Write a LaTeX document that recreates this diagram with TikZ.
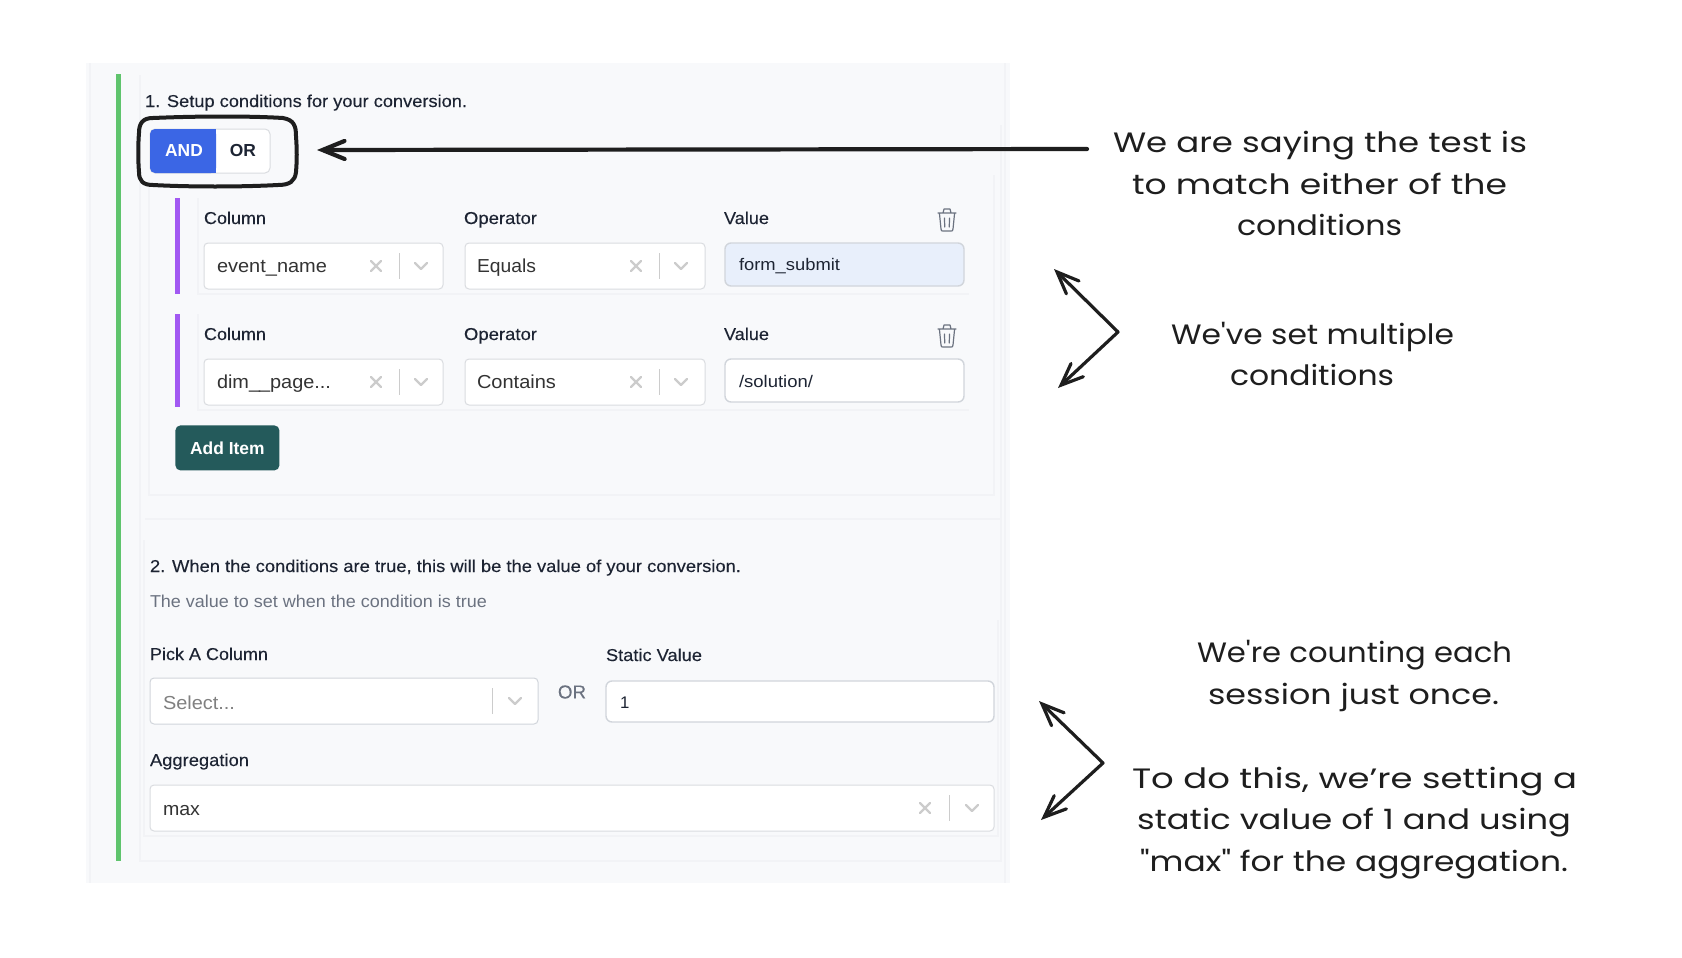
\documentclass[tikz,border=0pt]{standalone}
\usepackage{graphicx}
\usepackage{fontspec}
\setmainfont{Liberation Sans}
\newfontfamily\uimed[FakeBold=0.2]{Liberation Sans}
\newfontfamily\handf{Poppins}
\usetikzlibrary{arrows.meta}
\definecolor{panelbg}{HTML}{F8F9FB}
\definecolor{faint}{HTML}{F2F3F6}
\definecolor{greenbar}{HTML}{5FC46D}
\definecolor{purplebar}{HTML}{A259F2}
\definecolor{andblue}{HTML}{3B66E5}
\definecolor{teal}{HTML}{245A5B}
\definecolor{inkdark}{HTML}{1D2433}
\definecolor{selink}{HTML}{333333}
\definecolor{grayink}{HTML}{6B7280}
\definecolor{boxline}{HTML}{DADCE0}
\definecolor{iconline}{HTML}{CCCCCC}
\definecolor{inputline}{HTML}{D1D5DB}
\definecolor{hiblue}{HTML}{E8EFFB}
\definecolor{handink}{HTML}{1E1E1E}
\newcommand{\fitw}[2]{\resizebox{\dimexpr #1pt/2\relax}{\height}{#2}}
\tikzset{
  x=0.5pt,y=-0.5pt,
  txt/.style={inner sep=0pt,outer sep=0pt,anchor=base west},
  headtxt/.style={txt,text=inkdark,font=\uimed\fontsize{8.6pt}{10pt}\selectfont},
  labeltxt/.style={txt,text=inkdark,font=\uimed\fontsize{8.6pt}{10pt}\selectfont},
  seltxt/.style={txt,text=selink,font=\fontsize{9.4pt}{11pt}\selectfont},
  inptxt/.style={txt,text=inkdark,font=\fontsize{8.4pt}{10pt}\selectfont},
  handtxt/.style={txt,text=handink,font=\handf\fontsize{14pt}{16pt}\selectfont},
  selbox/.style={draw=boxline,fill=white,line width=0.5pt,rounded corners=2pt},
  inpbox/.style={draw=inputline,fill=white,line width=0.7pt,rounded corners=3pt},
  faintline/.style={draw=faint,line width=0.6pt},
  wiggle/.style={draw=handink,line width=2pt,line cap=round,line join=round},
  barbed/.style={draw=handink,line width=1.6pt,line cap=round,line join=round,
     {Straight Barb[length=11pt,width=9pt,line cap=round]}-{Straight Barb[length=11pt,width=9pt,line cap=round]}},
  pointer/.style={draw=handink,line width=2.1pt,line cap=round,
     {Straight Barb[length=11pt,width=9pt,line cap=round]}-},
  clearx/.pic={\draw[iconline,line width=1.2pt,line cap=round] (-5,-5) -- (5,5) (-5,5) -- (5,-5);},
  downchev/.pic={\draw[iconline,line width=1.2pt,line cap=round,line join=round] (-6,-3) -- (0,3) -- (6,-3);},
  sepbar/.pic={\draw[iconline,line width=0.5pt] (0,-13) -- (0,13);},
  trashicon/.pic={\draw[grayink,line width=0.6pt,line join=round,line cap=round]
     (-9,-7) -- (9,-7) (-4,-7) -- (-3,-11) -- (3,-11) -- (4,-7)
     (-7.5,-6) -- (-6,9) .. controls (-6,11) and (-5,11) .. (-4,11) -- (4,11) .. controls (5,11) and (6,11) .. (6,9) -- (7.5,-6)
     (-2.6,-2) -- (-2.2,7) (2.6,-2) -- (2.2,7);}
}
\begin{document}
\begin{tikzpicture}
\useasboundingbox (0,0) rectangle (1682,958);
\fill[white] (0,0) rectangle (1682,958);
% panels
\fill[panelbg] (86,63) rectangle (1010,883);
\draw[faintline] (90,63) -- (90,883);
\draw[faintline] (1005,63) -- (1005,883);
\draw[faintline] (140,75) -- (140,861) -- (1001,861) -- (1001,125);
\draw[faintline] (149,180) -- (149,495) -- (994,495) -- (994,175);
\draw[faintline] (145,519) -- (1001,519);
\draw[faintline] (144,540) -- (144,836) -- (998,836) -- (998,620);
\fill[greenbar] (116,74) rectangle (121,861);
% section 1
\node[headtxt] (head1) at (145,107) {\fitw{322}{1. Setup conditions for your conversion.}};
% toggle
\draw[draw=boxline,fill=white,line width=0.5pt,rounded corners=2.5pt] (150,129) rectangle (270,173);
\fill[andblue,rounded corners=2.5pt] (150,129) rectangle (216,173);
\fill[andblue] (205,129) rectangle (216,173);
\node[anchor=center,inner sep=0pt,text=white,font=\bfseries\fontsize{8.7pt}{11pt}\selectfont] (andlbl) at (184,151) {AND};
\node[anchor=center,inner sep=0pt,text=inkdark,font=\bfseries\fontsize{8.7pt}{11pt}\selectfont] (orlbl) at (243,151) {OR};
% row cards
\foreach \dy/\nm in {0/a,116/b}{
  \begin{scope}[yshift=-\dy*0.5pt]
  \ifnum\dy=0 \fill[purplebar] (175,198) rectangle (180,294);\else \fill[purplebar] (175,198) rectangle (180,291);\fi
  \draw[faintline] (198,198) -- (198,294) -- (969,294);
  \node[labeltxt] (col\nm) at (204,224) {\fitw{62}{Column}};
  \node[labeltxt] (ope\nm) at (464,224) {\fitw{73}{Operator}};
  \node[labeltxt] (val\nm) at (724,224) {\fitw{45}{Value}};
  \draw[selbox] (204,243) rectangle (443,289);
  \draw[selbox] (465,243) rectangle (705,289);
  \pic at (376,266) {clearx};
  \pic at (399,266) {sepbar};
  \pic at (421,266) {downchev};
  \pic at (636,266) {clearx};
  \pic at (659,266) {sepbar};
  \pic at (681,266) {downchev};
  \pic at (947,220) {trashicon};
  \end{scope}
}
\draw[inpbox,fill=hiblue] (725,243) rectangle (964,286);
\draw[inpbox] (725,359) rectangle (964,402);
\node[seltxt] (sel1) at (217,272) {\fitw{110}{event\_name}};
\node[seltxt] (sel2) at (477,272) {\fitw{59}{Equals}};
\node[inptxt] (inp1) at (739,270) {\fitw{101}{form\_submit}};
\node[seltxt] (sel3) at (217,388) {\fitw{114}{dim\_\hspace{-0.5pt}\_page...}};
\node[seltxt] (sel4) at (477,388) {\fitw{79}{Contains}};
\node[inptxt] (inp2) at (739,387) {\fitw{74}{/solution/}};
% add item
\node[fill=teal,rounded corners=2.5pt,anchor=north west,minimum width=52pt,minimum height=22.5pt,inner sep=0pt,
   text=white,font=\bfseries\fontsize{8.7pt}{10pt}\selectfont] (additem) at (175,425) {Add Item};
% section 2
\node[headtxt] (head2) at (150,572) {\fitw{591}{2. When the conditions are true, this will be the value of your conversion.}};
\node[txt,text=grayink,font=\fontsize{8.6pt}{10pt}\selectfont] (sub2) at (150,607) {\fitw{337}{The value to set when the condition is true}};
\node[labeltxt] (pick) at (150,660) {\fitw{118}{Pick A Column}};
\node[labeltxt] (stat) at (606,661) {\fitw{96}{Static Value}};
\draw[selbox,draw=inputline] (150,678) rectangle (538,724);
\node[seltxt,text=black!50] (selph) at (163,709) {\fitw{72}{Select...}};
\pic at (492,701) {sepbar};
\pic at (515,701) {downchev};
\node[anchor=center,inner sep=0pt,text=grayink,font=\uimed\fontsize{9.4pt}{11pt}\selectfont] (orgap) at (572,692) {OR};
\draw[inpbox] (606,681) rectangle (994,722);
\node[inptxt] (one) at (620,708) {1};
\node[labeltxt] (agg) at (150,766) {\fitw{99}{Aggregation}};
\draw[selbox] (150,785) rectangle (994,831);
\node[seltxt] (maxv) at (163,815) {\fitw{37}{max}};
\pic at (925,808) {clearx};
\pic at (949,808) {sepbar};
\pic at (972,808) {downchev};
% hand annotations
\draw[wiggle] (153,118) .. controls (200,116) and (250,116) .. (283,118) .. controls (294,120) and (296,126) .. (296,136)
  .. controls (297,150) and (297,160) .. (296,172) .. controls (295,181) and (290,185) .. (278,185)
  .. controls (240,187) and (190,187) .. (153,185) .. controls (143,185) and (139,181) .. (139,172)
  .. controls (138,160) and (138,145) .. (139,133) .. controls (139,123) and (143,118) .. (153,118) -- cycle;
\coordinate (ptrtip) at (317,150);
\coordinate (ptrend) at (1087,149);
\coordinate (c1a) at (1054,269);
\coordinate (c1m) at (1118,332);
\coordinate (c1b) at (1058,388);
\coordinate (c2a) at (1039,701);
\coordinate (c2m) at (1103,763);
\coordinate (c2b) at (1041,820);
\draw[pointer] (ptrtip) -- (ptrend);
\draw[barbed] (c1a) -- (c1m) -- (c1b);
\draw[barbed] (c2a) -- (c2m) -- (c2b);
\node[handtxt] (h1) at (1113,152) {\fitw{414}{We are saying the test is}};
\node[handtxt] (h2) at (1132,194) {\fitw{375}{to match either of the}};
\node[handtxt] (h3) at (1237,235) {\fitw{165}{conditions}};
\node[handtxt] (h4) at (1171,344) {\fitw{283}{We've set multiple}};
\node[handtxt] (h5) at (1230,385) {\fitw{164}{conditions}};
\node[handtxt] (h6) at (1197,662) {\fitw{315}{We're counting each}};
\node[handtxt] (h7) at (1208,704) {\fitw{291}{session just once.}};
\node[handtxt] (h8) at (1132,788) {\fitw{445}{To do this, we’re setting a}};
\node[handtxt] (h9) at (1137,829) {\fitw{434}{static value of 1 and using}};
\node[handtxt] (h10) at (1140,871) {\fitw{428}{"max" for the aggregation.}};
\end{tikzpicture}
\end{document}
